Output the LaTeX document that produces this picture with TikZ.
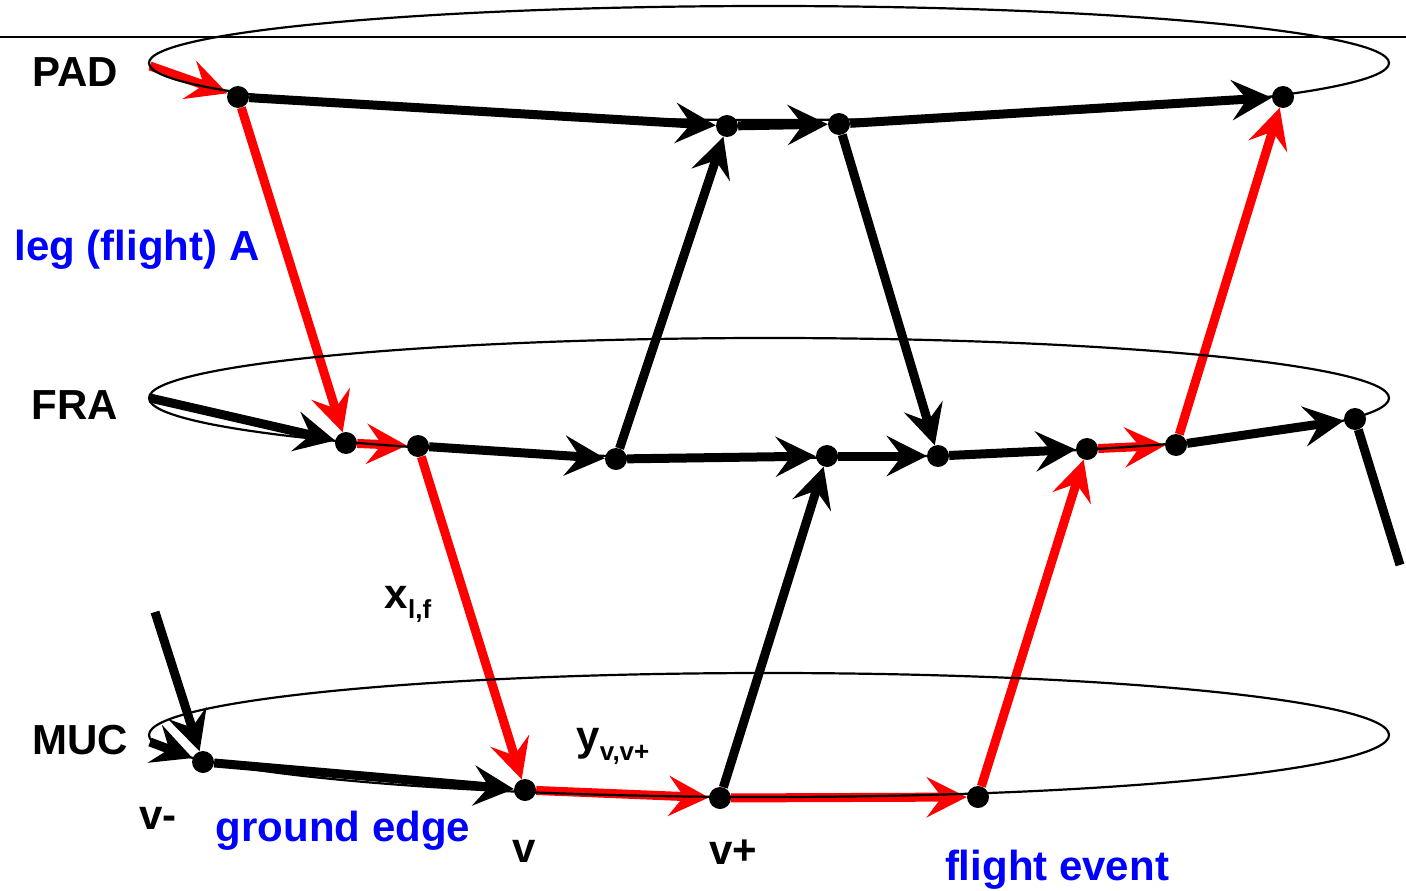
\documentclass[tikz,border=0pt]{standalone}
\usepackage{fontspec}
\setmainfont{Liberation Sans}
\usetikzlibrary{arrows.meta}
\pgfdeclarelayer{bg}
\pgfsetlayers{bg,main}
\definecolor{myred}{RGB}{255,0,0}
\definecolor{myblue}{RGB}{0,0,255}
\tikzset{
  dot/.style={circle,fill=black,inner sep=0pt,minimum size=22pt},
  edgeb/.style={line width=9pt,black,-{Stealth[length=40pt,width=40pt,inset=15pt]}},
  edger/.style={line width=9pt,myred,-{Stealth[length=40pt,width=40pt,inset=15pt]}},
  ell/.style={line width=2.2pt,black},
  lab/.style={font=\fontsize{42}{44}\selectfont\bfseries,inner sep=0pt},
  blab/.style={lab,text=myblue},
}
\begin{document}
\begin{tikzpicture}[x=1pt,y=-1pt]
\useasboundingbox (0,0) rectangle (1406,891);
\clip (0,0) rectangle (1406,891);
% ellipses
\draw[ell] (769,63) ellipse [x radius=620pt, y radius=57pt];
\draw[ell] (769,398) ellipse [x radius=620pt, y radius=60pt];
\draw[ell] (769,735) ellipse [x radius=620pt, y radius=62pt];
\draw[line width=1.2pt] (0,37) -- (1406,37);
% nodes
\node[dot] (P1) at (238,97) {};
\node[dot] (P2) at (727,126) {};
\node[dot] (P3) at (839,124) {};
\node[dot] (P4) at (1283,97) {};
\node[dot] (F1) at (346,443) {};
\node[dot] (F2) at (418,446) {};
\node[dot] (F3) at (616,459) {};
\node[dot] (F4) at (827,456) {};
\node[dot] (F5) at (938,456) {};
\node[dot] (F6) at (1087,449) {};
\node[dot] (F7) at (1176,445) {};
\node[dot] (F8) at (1355,419) {};
\node[dot] (M1) at (203,762) {};
\node[dot] (M2) at (525,790) {};
\node[dot] (M3) at (720,798) {};
\node[dot] (M4) at (978,797) {};
\coordinate (sP) at (150,66);
\coordinate (sF) at (150,398);
\coordinate (sM) at (150,742);
\coordinate (sT) at (155,612);
\coordinate (eF) at (1400,565);
% edges
\begin{pgfonlayer}{bg}
\draw[edger] (sP) -- (P1);
\draw[edgeb] (P1) -- (P2);
\draw[edgeb] (P2) -- (P3);
\draw[edgeb] (P3) -- (P4);
\draw[edger] (P1) -- (F1);
\draw[edgeb] (sF) -- (F1);
\draw[edger] (F1) -- (F2);
\draw[edgeb] (F2) -- (F3);
\draw[edgeb] (F3) -- (F4);
\draw[edgeb] (F4) -- (F5);
\draw[edgeb] (F5) -- (F6);
\draw[edger] (F6) -- (F7);
\draw[edgeb] (F7) -- (F8);
\draw[line width=9pt] (F8) -- (eF);
\draw[edgeb] (F3) -- (P2);
\draw[edgeb] (P3) -- (F5);
\draw[edger] (F7) -- (P4);
\draw[edger] (F2) -- (M2);
\draw[edgeb] (sT) -- (M1);
\draw[edgeb] (sM) -- (M1);
\draw[edgeb] (M1) -- (M2);
\draw[edger] (M2) -- (M3);
\draw[edger] (M3) -- (M4);
\draw[edgeb] (M3) -- (F4);
\draw[edger] (M4) -- (F6);
\end{pgfonlayer}
% labels
\node[lab] (lPAD) at (75,72) {PAD};
\node[lab] (lFRA) at (75,405) {FRA};
\node[lab] (lMUC) at (80,740) {MUC};
\node[blab] (lleg) at (137,250) {leg (flight) A};
\node[lab] (lx) at (408,604) {x\raisebox{-10pt}{\fontsize{26}{26}\selectfont l,f}};
\node[lab] (ly) at (613,746) {y\raisebox{-10pt}{\fontsize{26}{26}\selectfont v,v+}};
\node[lab] (lvm) at (158,818) {v-};
\node[blab] (lground) at (343,831) {ground edge};
\node[lab] (lv) at (524,851) {v};
\node[lab] (lvp) at (733,852) {v+};
\node[blab] (lflight) at (1057,870) {flight event};
\end{tikzpicture}
\end{document}
